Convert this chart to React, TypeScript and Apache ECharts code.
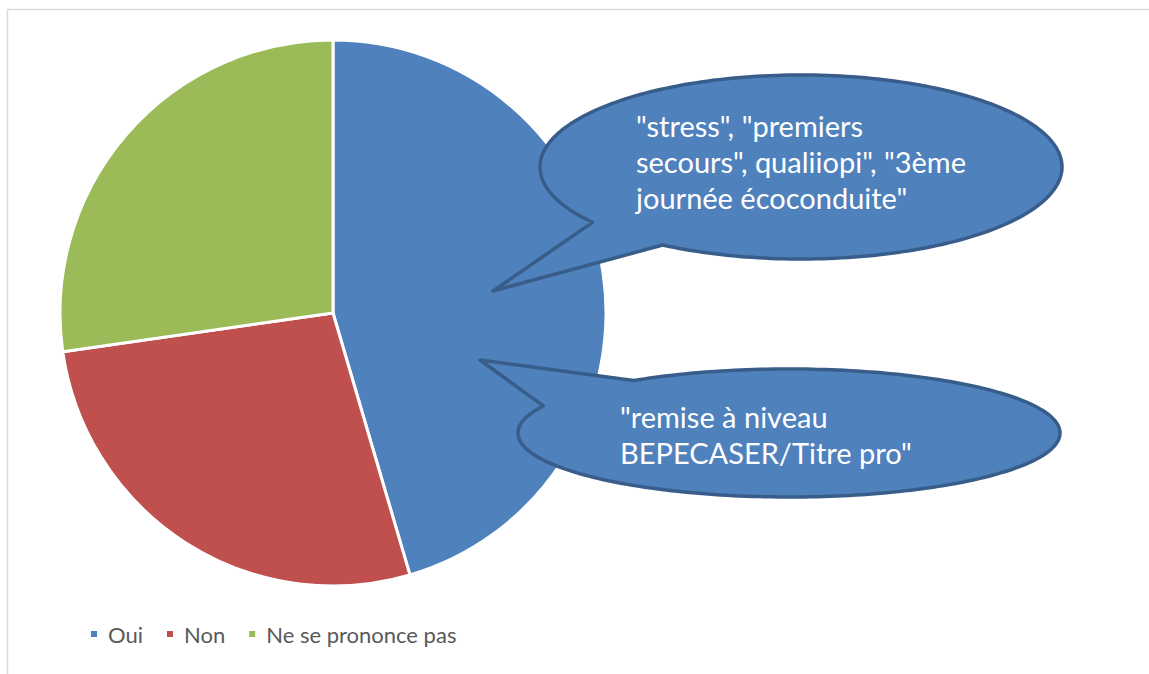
import React, { useEffect, useRef } from "react";
import * as echarts from "echarts";

const categories = ["Oui", "Non", "Ne se prononce pas"];
const values = [5, 3, 3];
const sliceColors = ["#4F81BD", "#C0504D", "#9BBB59"];

const callout1Lines = ['"stress", "premiers', 'secours", qualiiopi", "3ème', 'journée écoconduite"'];
const callout2Lines = ['"remise à niveau', 'BEPECASER/Titre pro"'];

type Callout = {
  cx: number; cy: number; rx: number; ry: number;
  t0: number; t1: number; ax: number; ay: number;
};

function calloutPoints(c: Callout): number[][] {
  const pts: number[][] = [];
  const n = 240;
  const a0 = (c.t0 * Math.PI) / 180;
  const a1 = (c.t1 * Math.PI) / 180;
  for (let i = 0; i <= n; i++) {
    const t = a1 + ((a0 + Math.PI * 2 - a1) * i) / n;
    pts.push([c.cx + c.rx * Math.cos(t), c.cy + c.ry * Math.sin(t)]);
  }
  pts.push([c.ax, c.ay]);
  return pts;
}

const FONT = "Lato, 'Liberation Sans', sans-serif";

export default function App() {
  const ref = useRef<HTMLDivElement>(null);
  useEffect(() => {
    if (!ref.current) return;
    const chart = echarts.init(ref.current, null, { renderer: "svg" });
    const c1: Callout = { cx: 801, cy: 167, rx: 261, ry: 92, t0: 122, t1: 143, ax: 493, ay: 291 };
    const c2: Callout = { cx: 789, cy: 433, rx: 271, ry: 64, t0: 205, t1: 235, ax: 480, ay: 360 };
    const bubbleStyle = { fill: "#4F81BD", stroke: "#385D8A", lineWidth: 3.5, lineJoin: "round" };
    chart.setOption({
      animation: false,
      backgroundColor: "#FFFFFF",
      color: sliceColors,
      legend: {
        data: categories,
        left: 89,
        top: 623,
        padding: 0,
        icon: "rect",
        itemWidth: 8,
        itemHeight: 8,
        itemGap: 22,
        selectedMode: false,
        textStyle: { color: "#595959", fontSize: 22, fontFamily: FONT, padding: [0, 0, 0, 5] },
      },
      series: [
        {
          type: "pie",
          center: [333, 313],
          radius: 273,
          startAngle: 90,
          clockwise: true,
          silent: true,
          label: { show: false },
          labelLine: { show: false },
          itemStyle: { borderColor: "#FFFFFF", borderWidth: 3 },
          data: categories.map((name, i) => ({ name, value: values[i] })),
        },
      ],
      graphic: [
        { type: "line", shape: { x1: 7, y1: 9.5, x2: 1149, y2: 9.5 }, style: { stroke: "#D9D9D9", lineWidth: 1.5 } },
        { type: "line", shape: { x1: 7.5, y1: 9, x2: 7.5, y2: 674 }, style: { stroke: "#D9D9D9", lineWidth: 1.5 } },
        { type: "polygon", shape: { points: calloutPoints(c1) }, style: bubbleStyle, z: 10 },
        {
          type: "text",
          left: 636,
          top: 107,
          z: 11,
          style: { text: callout1Lines.join("\n"), fill: "#FFFFFF", font: `29px ${FONT}`, lineHeight: 36 },
        },
        { type: "polygon", shape: { points: calloutPoints(c2) }, style: bubbleStyle, z: 10 },
        {
          type: "text",
          left: 620,
          top: 398,
          z: 11,
          style: { text: callout2Lines.join("\n"), fill: "#FFFFFF", font: `29px ${FONT}`, lineHeight: 36 },
        },
      ],
    });
    return () => chart.dispose();
  }, []);
  return (
    <div
      ref={ref}
      style={{ position: "fixed", left: 0, top: 0, width: 1149, height: 674 }}
    />
  );
}
